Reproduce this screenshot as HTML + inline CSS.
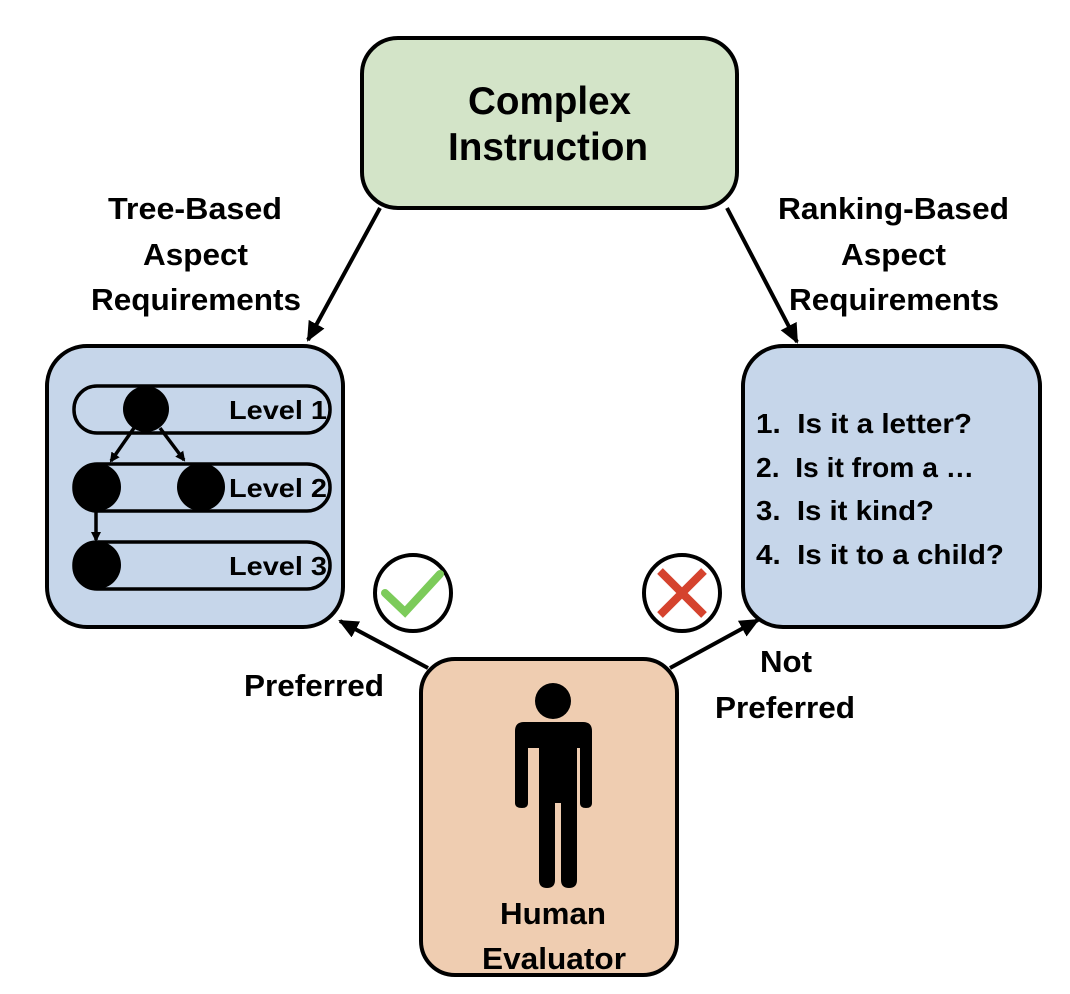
<!DOCTYPE html>
<html><head><meta charset="utf-8"><style>
html,body{margin:0;padding:0;background:#fff;}
svg{display:block;}
text{font-family:"Liberation Sans",sans-serif;font-weight:bold;fill:#000;}
</style></head><body>
<svg width="1070" height="994" viewBox="0 0 1070 994" xmlns="http://www.w3.org/2000/svg">
<defs>
<marker id="ah" markerWidth="10" markerHeight="10" refX="8" refY="5" orient="auto" markerUnits="userSpaceOnUse" viewBox="0 0 10 10">
<path d="M0,0 L10,5 L0,10 z" fill="#000"/>
</marker>
<marker id="ahL" markerWidth="20" markerHeight="18" refX="18" refY="9" orient="auto" markerUnits="userSpaceOnUse" viewBox="0 0 20 18">
<path d="M0,0 L20,9 L0,18 z" fill="#000"/>
</marker>
</defs>
<rect x="362" y="38" width="375" height="170" rx="36" fill="#d3e4c8" stroke="#000" stroke-width="4"/>
<text x="468" y="114" font-size="39" textLength="163" lengthAdjust="spacingAndGlyphs">Complex</text>
<text x="448" y="160" font-size="39" textLength="200" lengthAdjust="spacingAndGlyphs">Instruction</text>

<text x="108" y="219" font-size="31" textLength="174" lengthAdjust="spacingAndGlyphs">Tree-Based</text>
<text x="143" y="265" font-size="31" textLength="105" lengthAdjust="spacingAndGlyphs">Aspect</text>
<text x="91" y="310" font-size="31" textLength="210" lengthAdjust="spacingAndGlyphs">Requirements</text>
<text x="778" y="219" font-size="31" textLength="231" lengthAdjust="spacingAndGlyphs">Ranking-Based</text>
<text x="841" y="265" font-size="31" textLength="105" lengthAdjust="spacingAndGlyphs">Aspect</text>
<text x="789" y="310" font-size="31" textLength="210" lengthAdjust="spacingAndGlyphs">Requirements</text>

<line x1="380" y1="208" x2="308" y2="340" stroke="#000" stroke-width="4" marker-end="url(#ahL)"/>
<line x1="727" y1="208" x2="797" y2="342" stroke="#000" stroke-width="4" marker-end="url(#ahL)"/>

<rect x="47" y="346" width="296" height="281" rx="40" fill="#c6d6ea" stroke="#000" stroke-width="4"/>
<rect x="74" y="386" width="256" height="47" rx="23" fill="#c6d6ea" stroke="#000" stroke-width="3.5"/>
<rect x="74" y="464" width="256" height="47" rx="23" fill="#c6d6ea" stroke="#000" stroke-width="3.5"/>
<rect x="74" y="542" width="256" height="47" rx="23" fill="#c6d6ea" stroke="#000" stroke-width="3.5"/>
<text x="229" y="419" font-size="26" textLength="98" lengthAdjust="spacingAndGlyphs">Level 1</text>
<text x="229" y="497" font-size="26" textLength="98" lengthAdjust="spacingAndGlyphs">Level 2</text>
<text x="229" y="575" font-size="26" textLength="98" lengthAdjust="spacingAndGlyphs">Level 3</text>
<circle cx="146" cy="409" r="23" fill="#000"/>
<circle cx="97" cy="487" r="24" fill="#000"/>
<circle cx="201" cy="487" r="24" fill="#000"/>
<circle cx="97" cy="565" r="24" fill="#000"/>
<line x1="134" y1="428" x2="111" y2="461" stroke="#000" stroke-width="3.5" marker-end="url(#ah)"/>
<line x1="160" y1="428" x2="184" y2="460" stroke="#000" stroke-width="3.5" marker-end="url(#ah)"/>
<line x1="96" y1="510" x2="96" y2="540" stroke="#000" stroke-width="3.5" marker-end="url(#ah)"/>

<rect x="743" y="346" width="297" height="281" rx="40" fill="#c6d6ea" stroke="#000" stroke-width="4"/>
<text x="756" y="433" font-size="28" textLength="216" lengthAdjust="spacingAndGlyphs" xml:space="preserve">1.  Is it a letter?</text>
<text x="756" y="477" font-size="28" textLength="218" lengthAdjust="spacingAndGlyphs" xml:space="preserve">2.  Is it from a …</text>
<text x="756" y="520" font-size="28" textLength="178" lengthAdjust="spacingAndGlyphs" xml:space="preserve">3.  Is it kind?</text>
<text x="756" y="564" font-size="28" textLength="248" lengthAdjust="spacingAndGlyphs" xml:space="preserve">4.  Is it to a child?</text>

<circle cx="413" cy="593" r="38" fill="#fff" stroke="#000" stroke-width="4"/>
<path d="M385,593 L405,612 L440,574" fill="none" stroke="#7ccb5a" stroke-width="8" stroke-linecap="round"/>
<circle cx="682" cy="593" r="38" fill="#fff" stroke="#000" stroke-width="4"/>
<path d="M660,571 L704,615 M704,571 L660,615" stroke="#d5432e" stroke-width="8"/>

<line x1="428" y1="668" x2="340" y2="621" stroke="#000" stroke-width="4" marker-end="url(#ahL)"/>
<line x1="670" y1="668" x2="758" y2="620" stroke="#000" stroke-width="4" marker-end="url(#ahL)"/>
<text x="244" y="696" font-size="31" textLength="140" lengthAdjust="spacingAndGlyphs">Preferred</text>
<text x="760" y="672" font-size="31" textLength="52" lengthAdjust="spacingAndGlyphs">Not</text>
<text x="715" y="718" font-size="31" textLength="140" lengthAdjust="spacingAndGlyphs">Preferred</text>

<rect x="421" y="659" width="256" height="316" rx="34" fill="#efcdb1" stroke="#000" stroke-width="4"/>
<circle cx="553" cy="701" r="18" fill="#000"/>
<path d="M524,722 L583,722 Q592,722 592,731 L592,803 Q592,808 586,808 Q580,808 580,803 L580,748 L577,748 L577,880 Q577,888 569,888 Q561,888 561,880 L561,803 L555,803 L555,880 Q555,888 547,888 Q539,888 539,880 L539,748 L528,748 L528,803 Q528,808 522,808 Q515,808 515,803 L515,731 Q515,722 524,722 Z" fill="#000"/>
<text x="500" y="924" font-size="31" textLength="106" lengthAdjust="spacingAndGlyphs">Human</text>
<text x="482" y="969" font-size="31" textLength="144" lengthAdjust="spacingAndGlyphs">Evaluator</text>
</svg>
</body></html>
